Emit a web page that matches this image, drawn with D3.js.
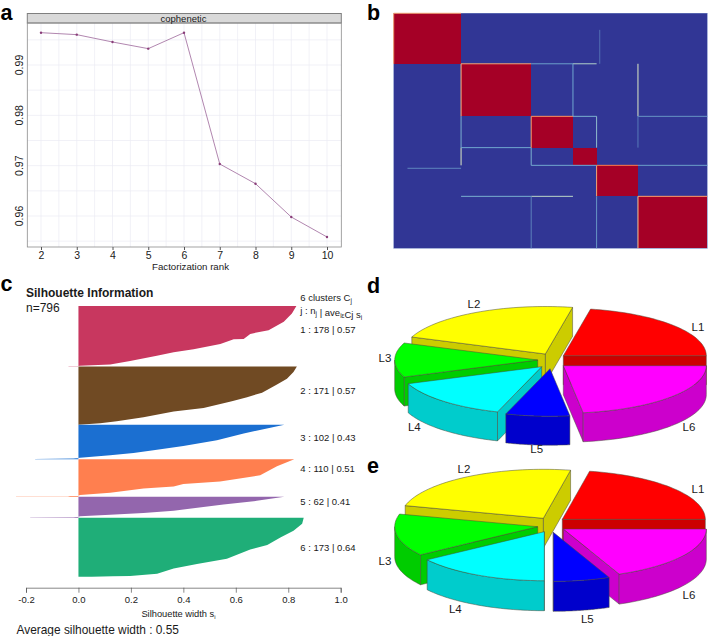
<!DOCTYPE html>
<html>
<head>
<meta charset="utf-8">
<script src="https://cdn.jsdelivr.net/npm/d3@7"></script>
<style>
html, body { margin: 0; padding: 0; background: #fff; }
svg { display: block; }
text { font-family: "Liberation Sans", Arial, sans-serif; fill: #1a1a1a; }
</style>
</head>
<body>
<div id="chart"></div>
<script>
// panel a
const ranks = [2, 3, 4, 5, 6, 7, 8, 9, 10];
const cophenetic = [0.99642, 0.99603, 0.99457, 0.99325, 0.99642, 0.97033, 0.96642, 0.9598, 0.95583];

// panel b
const heatSizes = [171, 178, 106, 60, 105, 176];
const heatEdges = [0, 171, 349, 455, 515, 620, 796];
// x1, y1, x2, y2, consensus value of the stray lines between blocks
const seams = [
  [0, 0, 171, 0, 0.68], [0, 0, 0, 171, 0.68],
  [171, 171, 349, 171, 0.66], [171, 171, 171, 349, 0.62],
  [349, 349, 455, 349, 0.68], [349, 349, 349, 455, 0.66],
  [515, 515, 620, 515, 0.72], [515, 515, 515, 620, 0.66],
  [620, 620, 796, 620, 0.66], [620, 620, 620, 796, 0.6],
  [349, 171, 455, 171, 0.22], [455, 171, 515, 171, 0.36],
  [455, 171, 455, 349, 0.24], [620, 171, 620, 349, 0.44],
  [620, 349, 796, 349, 0.2], [455, 349, 515, 349, 0.26],
  [515, 349, 515, 455, 0.3], [620, 349, 620, 455, 0.14],
  [171, 349, 171, 455, 0.26], [171, 455, 171, 515, 0.44],
  [171, 455, 349, 455, 0.24], [349, 455, 349, 515, 0.26],
  [349, 515, 515, 515, 0.24], [620, 515, 796, 515, 0.22],
  [35, 525, 171, 525, 0.17], [171, 620, 349, 620, 0.26],
  [349, 620, 455, 620, 0.38], [349, 620, 349, 796, 0.16],
  [515, 620, 515, 796, 0.2], [523, 56, 523, 171, 0.12]
];

// panel c
const silLabels = ["1", "2", "3", "4", "5", "6"];
const silSizes = [178, 171, 102, 110, 62, 173];
const silAverages = ["0.57", "0.57", "0.43", "0.51", "0.41", "0.64"];
const silColors = ["#c8375f", "#704a23", "#1b6fd1", "#ff7f4f", "#9366ad", "#1fae78"];
// [rank inside the cluster, silhouette width]
const sil1 = [[0, .831], [22, .814], [46, .783], [71, .725], [82, .655], [97, .63], [98, .592], [112, .541], [127, .439], [136, .363], [146, .299], [162, .197], [172, .121], [175.5, .006], [176.5, 0], [177, -.02], [177.2, -.038], [178, -.038]];
const sil2 = [[0, .833], [16, .82], [36, .795], [53, .757], [77, .7], [90, .643], [102, .585], [122, .477], [132, .363], [149, .248], [161, .146], [167, .083], [171, 0]];
const sil3 = [[0, .785], [9, .732], [26, .63], [46, .528], [63, .4], [75, .286], [83, .21], [90, .121], [97, .006], [98, 0], [99.5, -.019], [100.5, -.089], [100.8, -.165], [102, -.165]];
const sil4 = [[0, .823], [20, .757], [47, .693], [65, .54], [72.5, .4], [80, .363], [86, .248], [98, .121], [105, .006], [107, 0], [108, -.032], [109, -.04], [109.3, -.238], [110, -.238]];
const sil5 = [[0, .785], [12, .68], [22.5, .553], [41, .363], [48, .248], [53, .121], [57, .006], [59, 0], [60, -.019], [60.5, -.03], [60.7, -.184], [62, -.184]];
const sil6 = [[0, .859], [17, .853], [38, .82], [58, .77], [80, .72], [93, .655], [120, .566], [136, .452], [149, .363], [164, .3], [171, .197], [172, .13], [173, .05], [173, 0]];
const silSeries = [sil1, sil2, sil3, sil4, sil5, sil6];
const silTicks = [-0.2, 0, 0.2, 0.4, 0.6, 0.8, 1];

// panels d and e
const pieLabels = ["L1", "L2", "L3", "L4", "L5", "L6"];
const pieTop = ["#ff0000", "#ffff00", "#00ff00", "#00ffff", "#0000ff", "#ff00ff"];
const pieSide = ["#cc0000", "#cccc00", "#00cc00", "#00cccc", "#0000cc", "#cc00cc"];
const pieValuesD = [79, 80, 42, 51, 26, 82];
const pieValuesE = [79, 86, 50, 55, 23, 67];

const svg = d3.select("#chart").append("svg").attr("width", 708).attr("height", 636);

function letter(s, x, y) {
  svg.append("text").attr("x", x).attr("y", y).attr("font-size", 21.5).attr("font-weight", "bold")
    .style("fill", "#000").text(s);
}
letter("a", 0.5, 19.5);
letter("b", 367, 19.5);
letter("c", 0.5, 291);
letter("d", 367, 292.5);
letter("e", 367, 472.5);

// ---- a ----
const drawCophenetic = () => {
  const box = {left: 27.3, right: 341.3, top: 23, bottom: 247};
  const x = d3.scaleLinear().domain([2, 10]).range([41, 327]);
  const y = d3.scaleLinear().domain([0.96, 0.99]).range([216, 65]);
  const g = svg.append("g");

  const xGrid = d3.range(2, 10.5, 0.5);
  const yGrid = d3.range(0.955, 0.9951, 0.005);
  g.selectAll(".gx").data(xGrid).enter().append("line")
    .attr("x1", d => x(d)).attr("x2", d => x(d)).attr("y1", box.top).attr("y2", box.bottom)
    .attr("stroke", "#ebebf3").attr("stroke-width", 0.7);
  g.selectAll(".gy").data(yGrid).enter().append("line")
    .attr("x1", box.left).attr("x2", box.right).attr("y1", d => y(d)).attr("y2", d => y(d))
    .attr("stroke", "#ebebf3").attr("stroke-width", 0.7);

  g.append("rect").attr("x", box.left).attr("y", 13.5).attr("width", box.right - box.left).attr("height", box.top - 13.5)
    .attr("fill", "#d9d9d9").attr("stroke", "#7f7f7f");
  g.append("rect").attr("x", box.left).attr("y", box.top).attr("width", box.right - box.left).attr("height", box.bottom - box.top)
    .attr("fill", "none").attr("stroke", "#8c8c8c").attr("stroke-width", 0.8);
  g.append("text").attr("x", 183.5).attr("y", 21.5).attr("text-anchor", "middle").attr("font-size", 9.5).text("cophenetic");

  const xAxis = g.append("g").attr("transform", "translate(0," + box.bottom + ")")
    .call(d3.axisBottom(x).tickValues(ranks).tickSize(3).tickPadding(2).tickFormat(d3.format("d")));
  xAxis.select(".domain").remove();
  xAxis.selectAll("text").attr("font-size", 10.5);
  xAxis.selectAll("line").attr("stroke", "#555");

  const yAxis = g.append("g").attr("transform", "translate(" + box.left + ",0)")
    .call(d3.axisLeft(y).tickValues([0.96, 0.97, 0.98, 0.99]).tickSize(0).tickFormat(d3.format(".2f")));
  yAxis.select(".domain").remove();
  yAxis.selectAll(".tick").attr("transform", d => "translate(-8," + y(d) + ")");
  yAxis.selectAll("text").attr("font-size", 10.5).attr("transform", "rotate(-90)")
    .attr("x", 0).attr("y", 0).attr("text-anchor", "middle");

  const line = d3.line().x((d, i) => x(ranks[i])).y(d => y(d));
  g.append("path").attr("d", line(cophenetic)).attr("fill", "none").attr("stroke", "#a878a6").attr("stroke-width", 0.9);
  g.selectAll(".pt").data(cophenetic).enter().append("circle")
    .attr("cx", (d, i) => x(ranks[i])).attr("cy", d => y(d)).attr("r", 1.2).attr("fill", "#8a3d78");

  g.append("text").attr("x", 190.5).attr("y", 270).attr("text-anchor", "middle").attr("font-size", 9.7).text("Factorization rank");
};

// ---- b ----
const drawConsensus = () => {
  const x = d3.scaleLinear().domain([0, 796]).range([393.7, 707.3]);
  const y = d3.scaleLinear().domain([0, 796]).range([13.3, 248.3]);
  const color = d3.scaleLinear().domain([0, 0.25, 0.5, 0.75, 1])
    .range(["#313695", "#74add1", "#ffffbf", "#f46d43", "#a50026"]);
  const g = svg.append("g");
  const cells = [];
  heatSizes.forEach((a, i) => heatSizes.forEach((b, j) => cells.push({i, j, v: i === j ? 1 : 0})));
  g.selectAll(".cell").data(cells).enter().append("rect")
    .attr("x", d => x(heatEdges[d.j])).attr("y", d => y(heatEdges[d.i]))
    .attr("width", d => x(heatEdges[d.j + 1]) - x(heatEdges[d.j]))
    .attr("height", d => y(heatEdges[d.i + 1]) - y(heatEdges[d.i]))
    .attr("fill", d => color(d.v)).attr("shape-rendering", "crispEdges");
  g.append("rect").attr("x", x(0)).attr("y", y(0)).attr("width", x(796) - x(0)).attr("height", y(796) - y(0))
    .attr("fill", "none").attr("stroke", "#6f80c0").attr("stroke-width", 0.6);
  g.selectAll(".seam").data(seams).enter().append("line")
    .attr("x1", d => x(d[0])).attr("y1", d => y(d[1])).attr("x2", d => x(d[2])).attr("y2", d => y(d[3]))
    .attr("stroke", d => color(d[4])).attr("stroke-width", 1);
};

// ---- c ----
const drawSilhouette = () => {
  const x = d3.scaleLinear().domain([-0.2, 1]).range([26, 340.7]);
  const y = d3.scaleLinear().domain([0, 796]).range([306, 576.7]);
  const g = svg.append("g");
  const labelY = [329.3, 390.7, 438, 469, 501.7, 547.7];
  let start = 0;
  silSeries.forEach((series, k) => {
    const offset = start;
    const area = d3.area().x0(x(0)).x1(d => x(d[1])).y(d => y(offset + d[0]));
    g.append("path").attr("d", area(series)).attr("fill", silColors[k]);
    g.append("text").attr("x", 300.3).attr("y", labelY[k] + 3.4).attr("font-size", 9.5)
      .text(silLabels[k] + " : " + silSizes[k] + " | " + silAverages[k]);
    start += silSizes[k];
  });

  const axis = g.append("g").attr("transform", "translate(0,587.7)")
    .call(d3.axisBottom(x).tickValues(silTicks).tickSize(5).tickPadding(4).tickFormat(d3.format(".1f")));
  axis.select(".domain").attr("stroke", "#555").attr("stroke-width", 0.7);
  axis.selectAll("line").attr("stroke", "#555").attr("stroke-width", 0.7);
  axis.selectAll("text").attr("font-size", 9.5).text(d => d3.format(".1f")(d).replace("\u2212", "-"));

  const sub = (t, s, size) => { t.append("tspan").attr("dy", 2).attr("font-size", size).text(s); t.append("tspan").attr("dy", -2).text(""); };

  g.append("text").attr("x", 26).attr("y", 297).attr("font-size", 12).attr("font-weight", "bold").text("Silhouette Information");
  g.append("text").attr("x", 26).attr("y", 311.5).attr("font-size", 12).text("n=796");
  let t = g.append("text").attr("x", 300.3).attr("y", 301.3).attr("font-size", 9.5).text("6 clusters C");
  sub(t, "j", 6.5);
  t = g.append("text").attr("x", 300.3).attr("y", 313.5).attr("font-size", 9.5).text("j : n");
  sub(t, "j", 6.5);
  t.append("tspan").text(" | ave");
  sub(t, "i\u03b5", 6.5);
  t.append("tspan").text("Cj s");
  sub(t, "i", 6.5);
  t = g.append("text").attr("x", 178.5).attr("y", 617).attr("text-anchor", "middle").attr("font-size", 9.3).text("Silhouette width s");
  sub(t, "i", 6);
  g.append("text").attr("x", 16.5).attr("y", 634).attr("font-size", 11.9).text("Average silhouette width : 0.55");
};

// ---- d, e ----
// pie angles from d3.pie: 0 points up, going counter clockwise from 3 o'clock here
const drawPie = (values, geo) => {
  const arcs = d3.pie().sort(null).startAngle(Math.PI / 2).endAngle(Math.PI / 2 - 2 * Math.PI)(values);
  const pt = (k, a, dep) => {
    const o = geo.apex[k];
    return [o[0] + geo.rx * Math.sin(a), o[1] - geo.ry * Math.cos(a) + dep];
  };
  const g = svg.append("g").attr("stroke", "#4a4a3a").attr("stroke-width", 0.5).attr("stroke-linejoin", "round");
  const poly = d3.line();

  geo.order.forEach(k => {
    const s = arcs[k], o = geo.apex[k];
    const a0 = s.startAngle, a1 = s.endAngle;
    const steps = d3.range(0, 41).map(i => a0 + (a1 - a0) * i / 40);
    const rim = steps.map(a => pt(k, a, 0));
    const mid = pt(k, (a0 + a1) / 2, 0);

    // flat walls along the two cut edges, only when they face the viewer
    [a0, a1].forEach(a => {
      const p = pt(k, a, 0);
      const dx = p[0] - o[0], dy = p[1] - o[1];
      let n = [-dy, dx];
      if (n[0] * (mid[0] - o[0]) + n[1] * (mid[1] - o[1]) > 0) n = [dy, -dx];
      if (n[1] > -0.5) {
        g.append("path").attr("fill", pieSide[k])
          .attr("d", poly([o, p, [p[0], p[1] + geo.depth], [o[0], o[1] + geo.depth]]) + "Z");
      }
    });
    // outer wall, lower half of the rim only
    const low = steps.filter(a => Math.cos(a) <= 0.0001);
    if (low.length > 1) {
      const up = low.map(a => pt(k, a, 0));
      const down = low.map(a => pt(k, a, geo.depth)).reverse();
      g.append("path").attr("fill", pieSide[k]).attr("d", poly(up.concat(down)) + "Z");
    }
    g.append("path").attr("fill", pieTop[k]).attr("d", poly([o].concat(rim)) + "Z");
  });

  pieLabels.forEach((s, k) => {
    svg.append("text").attr("x", geo.labels[k][0]).attr("y", geo.labels[k][1] + 3.9)
      .attr("text-anchor", "middle").attr("font-size", 11.5).text(s);
  });
};

drawCophenetic();
drawConsensus();
drawSilhouette();
drawPie(pieValuesD, {
  rx: 143, ry: 47.5, depth: 29,
  apex: [[563.3, 355.7], [545.3, 354], [537.7, 360], [541.7, 366.7], [550, 368.7], [563.3, 365.7]],
  order: [0, 1, 2, 5, 3, 4],
  labels: [[698, 327.3], [474, 304.3], [385, 358], [414.3, 427.3], [536.7, 449.5], [689, 427.3]]
});
drawPie(pieValuesE, {
  rx: 143, ry: 49, depth: 30,
  apex: [[562.3, 519.3], [543.3, 518.3], [537.7, 526.7], [544.3, 531.7], [553.3, 532.3], [563.3, 529]],
  order: [0, 1, 2, 5, 3, 4],
  labels: [[698, 489.3], [464, 469.3], [385, 560.7], [455.3, 609.3], [587.3, 619.3], [689, 595.3]]
});
</script>
</body>
</html>
